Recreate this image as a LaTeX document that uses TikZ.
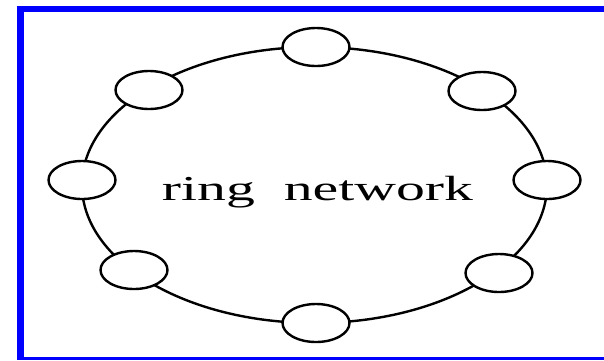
\documentclass[tikz,border=0pt]{standalone}
\usepackage{fontspec}
\setmainfont{Liberation Serif}
\usetikzlibrary{shapes.geometric}
\definecolor{frameblue}{RGB}{0,0,255}
\begin{document}
\begin{tikzpicture}[x=1pt,y=-1pt,
  ringnode/.style={ellipse,draw=black,fill=white,line width=2.4pt,minimum width=67pt,minimum height=38pt,inner sep=0pt},
  ringline/.style={draw=black,line width=2.4pt},
  framepart/.style={fill=frameblue,draw=none}]
\path[fill=white] (0,0) rectangle (604,360);
\useasboundingbox (0,0) rectangle (604,360);
\fill[framepart] (17,6) rectangle (24,360);
\fill[framepart] (17,6) rectangle (604,12);
\fill[framepart] (17,357) rectangle (604,360);
\coordinate (c) at (314.5,185);
\draw[ringline] (c) ellipse [x radius=232.5, y radius=138];
\node[ringnode] (top) at (316,47) {};
\node[ringnode] (tr) at (482,91) {};
\node[ringnode] (right) at (547,180) {};
\node[ringnode] (br) at (499,273) {};
\node[ringnode] (bottom) at (316,323) {};
\node[ringnode] (bl) at (134,270) {};
\node[ringnode] (left) at (82,180) {};
\node[ringnode] (tl) at (149,90) {};
\node[anchor=base,inner sep=0pt] (label) at (317.5,200) {\scalebox{1.65}[1]{\fontsize{35}{40}\selectfont ring\ \ network}};
\end{tikzpicture}
\end{document}
